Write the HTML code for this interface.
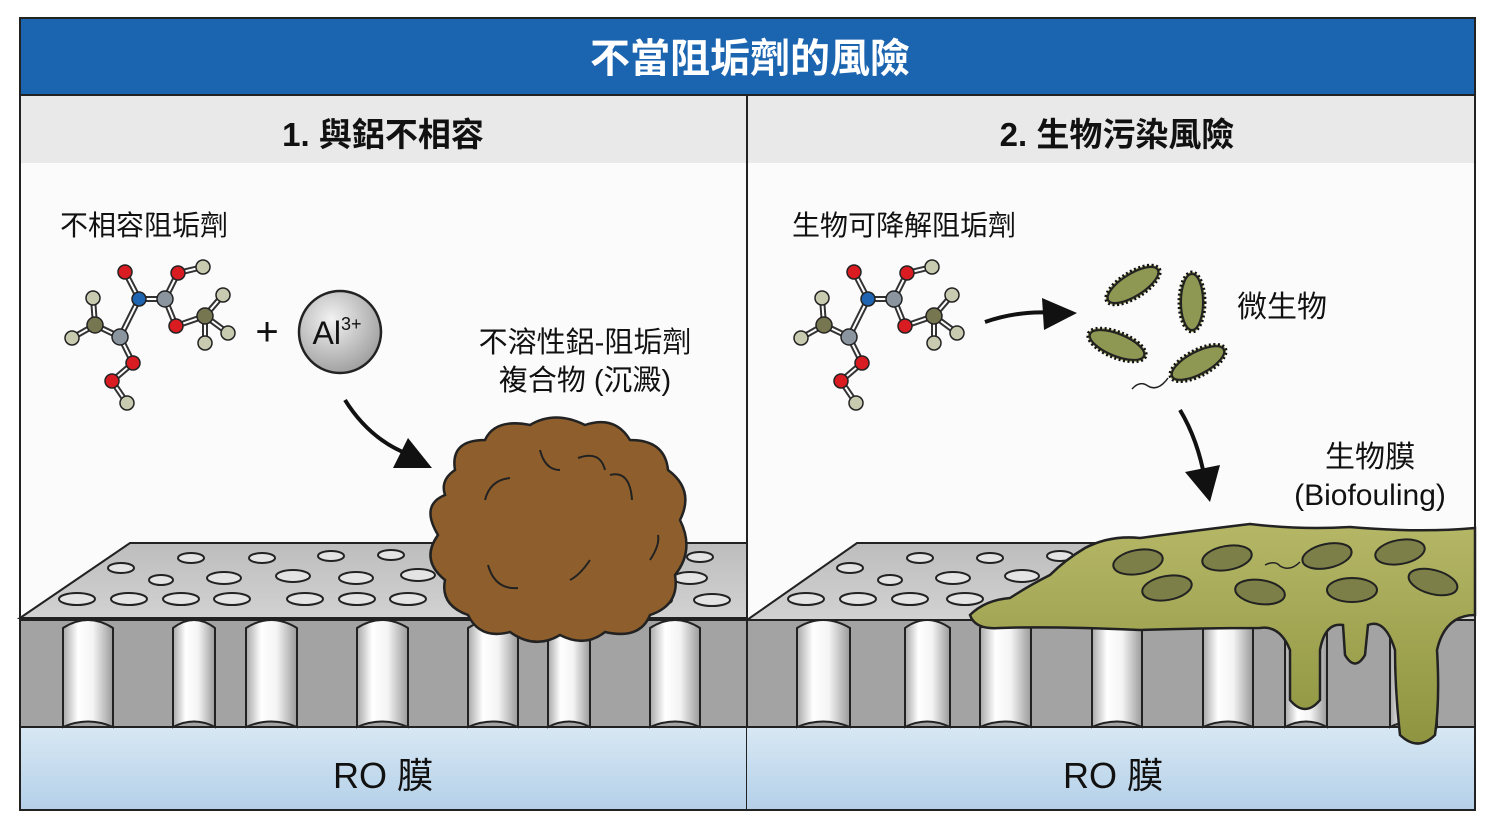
<!DOCTYPE html>
<html><head><meta charset="utf-8">
<style>
html,body{margin:0;padding:0;background:#fff;}
svg{display:block;}
text{font-family:"Liberation Sans","Noto Sans CJK TC",sans-serif;}
</style></head><body>
<svg width="1500" height="837" viewBox="0 0 1500 837" xmlns="http://www.w3.org/2000/svg">
<defs>
<linearGradient id="pore" x1="0" x2="1" y1="0" y2="0">
<stop offset="0" stop-color="#a8a8a8"/><stop offset="0.3" stop-color="#ffffff"/><stop offset="0.6" stop-color="#f4f4f4"/><stop offset="1" stop-color="#9a9a9a"/></linearGradient>
<linearGradient id="water" x1="0" x2="0" y1="0" y2="1"><stop offset="0" stop-color="#d8e8f4"/><stop offset="1" stop-color="#b4d0e8"/></linearGradient>
<linearGradient id="top" x1="0" x2="0" y1="0" y2="1"><stop offset="0" stop-color="#bdbdbd"/><stop offset="1" stop-color="#d2d2d2"/></linearGradient>
<radialGradient id="al" cx="0.4" cy="0.35" r="0.7"><stop offset="0" stop-color="#f2f2f2"/><stop offset="1" stop-color="#9c9c9c"/></radialGradient>
<linearGradient id="film" x1="0" x2="0" y1="0" y2="1"><stop offset="0" stop-color="#b5b766"/><stop offset="1" stop-color="#8e9440"/></linearGradient>
</defs>
<rect x="0" y="0" width="1500" height="837" fill="#fff"/>
<rect x="20" y="95" width="1455" height="715" fill="#fbfbfb"/>
<rect x="20" y="95" width="1455" height="68" fill="#e9e9e9"/>
<rect x="20" y="18" width="1455" height="77" fill="#1a64b0"/>
<text x="750" y="72" font-size="40" fill="#fff" text-anchor="middle" font-weight="bold">不當阻垢劑的風險</text>
<text x="383" y="146" font-size="33" fill="#111" text-anchor="middle" font-weight="bold">1. 與鋁不相容</text>
<text x="1117" y="146" font-size="33" fill="#111" text-anchor="middle" font-weight="bold">2. 生物污染風險</text>

<rect x="20" y="727" width="727" height="83" fill="url(#water)"/>
<polygon points="20,618 130,543 747,543 747,618" fill="url(#top)" stroke="#222" stroke-width="2"/>
<rect x="20" y="620" width="727" height="107" fill="#a3a3a3" stroke="#222" stroke-width="2"/>
<g fill="url(#pore)" stroke="#222" stroke-width="2">
<path d="M63,727 V628 Q88,612 113,628 V727 Q88,716 63,727Z"/>
<path d="M173,727 V628 Q194,612 215,628 V727 Q194,716 173,727Z"/>
<path d="M246,727 V628 Q271,612 297,628 V727 Q271,716 246,727Z"/>
<path d="M357,727 V628 Q382,612 408,628 V727 Q382,716 357,727Z"/>
<path d="M468,727 V628 Q493,612 518,628 V727 Q493,716 468,727Z"/>
<path d="M548,727 V628 Q569,612 590,628 V727 Q569,716 548,727Z"/>
<path d="M650,727 V628 Q675,612 700,628 V727 Q675,716 650,727Z"/>
</g>
<g fill="#e4e4e4" stroke="#222" stroke-width="2">
<ellipse cx="191" cy="558" rx="13" ry="5"/><ellipse cx="262" cy="558" rx="13" ry="5"/><ellipse cx="331" cy="556" rx="13" ry="5"/><ellipse cx="391" cy="555" rx="13" ry="5"/>
<ellipse cx="121" cy="568" rx="13" ry="5"/><ellipse cx="161" cy="580" rx="12" ry="5"/><ellipse cx="224" cy="578" rx="17" ry="6"/><ellipse cx="293" cy="576" rx="17" ry="6"/><ellipse cx="356" cy="578" rx="17" ry="6"/><ellipse cx="418" cy="575" rx="17" ry="6"/>
<ellipse cx="77" cy="599" rx="18" ry="6"/><ellipse cx="129" cy="599" rx="18" ry="6"/><ellipse cx="181" cy="599" rx="18" ry="6"/><ellipse cx="232" cy="599" rx="18" ry="6"/><ellipse cx="305" cy="599" rx="18" ry="6"/><ellipse cx="357" cy="599" rx="18" ry="6"/><ellipse cx="408" cy="599" rx="18" ry="6"/>
<ellipse cx="690" cy="578" rx="17" ry="6"/><ellipse cx="712" cy="600" rx="18" ry="6"/><ellipse cx="660" cy="600" rx="12" ry="5"/><ellipse cx="700" cy="557" rx="13" ry="5"/>
</g>
<text x="383" y="788" font-size="36" fill="#111" text-anchor="middle">RO 膜</text>

<path d="M455,470 Q450,440 485,440 Q495,418 530,425 Q555,410 585,425 Q615,415 630,440 Q665,440 668,470 Q695,490 680,520 Q695,550 675,575 Q680,605 650,615 Q640,640 605,632 Q585,648 560,635 Q535,650 510,632 Q480,640 468,615 Q440,605 445,580 Q420,560 438,535 Q420,505 445,495 Q440,480 455,470Z" fill="#8e5f2c" stroke="#222" stroke-width="2.5"/>
<g fill="none" stroke="#222" stroke-width="2">
<path d="M485,500 Q490,480 510,478"/><path d="M578,458 Q600,450 605,470"/><path d="M610,475 Q630,470 632,500"/><path d="M488,565 Q495,590 518,588"/><path d="M570,580 Q580,575 590,560"/><path d="M650,560 Q660,545 658,535"/><path d="M540,450 Q545,470 560,470"/>
</g>

<g id="mol">
<g stroke="#333" stroke-width="6" fill="none"><path d="M125,272 L139,299 L165,299 L178,273 L203,267 M165,299 L176,326 L205,316 L223,295 M205,316 L228,333 M205,316 L205,343 M139,299 L120,337 L95,325 L93,298 M95,325 L72,338 M120,337 L133,363 L112,381 L127,403"/></g>
<g stroke="#fff" stroke-width="2" fill="none"><path d="M125,272 L139,299 L165,299 L178,273 L203,267 M165,299 L176,326 L205,316 L223,295 M205,316 L228,333 M205,316 L205,343 M139,299 L120,337 L95,325 L93,298 M95,325 L72,338 M120,337 L133,363 L112,381 L127,403"/></g>
<g stroke="#222" stroke-width="1.5">
<circle cx="125" cy="272" r="7" fill="#d81c22"/><circle cx="178" cy="273" r="7" fill="#d81c22"/><circle cx="203" cy="267" r="7" fill="#c8cbb0"/>
<circle cx="139" cy="299" r="7" fill="#1e64b0"/><circle cx="165" cy="299" r="8" fill="#8a95a0"/>
<circle cx="95" cy="325" r="8" fill="#767650"/><circle cx="93" cy="298" r="7" fill="#c8cbb0"/><circle cx="72" cy="338" r="7" fill="#c8cbb0"/>
<circle cx="120" cy="337" r="8" fill="#8a95a0"/><circle cx="176" cy="326" r="7" fill="#d81c22"/>
<circle cx="205" cy="316" r="8" fill="#767650"/><circle cx="223" cy="295" r="7" fill="#c8cbb0"/><circle cx="228" cy="333" r="7" fill="#c8cbb0"/><circle cx="205" cy="343" r="7" fill="#c8cbb0"/>
<circle cx="133" cy="363" r="7" fill="#d81c22"/><circle cx="112" cy="381" r="7" fill="#d81c22"/><circle cx="127" cy="403" r="7" fill="#c8cbb0"/>
</g></g>
<use href="#mol" transform="translate(729,0)"/>

<text x="267" y="345" font-size="40" fill="#111" text-anchor="middle">+</text>
<circle cx="340" cy="332" r="41" fill="url(#al)" stroke="#222" stroke-width="2.5"/>
<text x="337" y="344" font-size="32" fill="#111" text-anchor="middle">Al<tspan font-size="18" dy="-14">3+</tspan></text>

<text x="60" y="235" font-size="28" fill="#111">不相容阻垢劑</text>
<text x="585" y="352" font-size="29" fill="#111" text-anchor="middle">不溶性鋁-阻垢劑</text>
<text x="585" y="390" font-size="29" fill="#111" text-anchor="middle">複合物 (沉澱)</text>

<path d="M345,400 Q370,440 410,455" fill="none" stroke="#111" stroke-width="4"/>
<polygon points="393,468 432,468 408,438" fill="#111"/>
<path d="M985,322 Q1020,310 1055,313" fill="none" stroke="#111" stroke-width="4"/>
<polygon points="1042,298 1077,313 1044,330" fill="#111"/>
<path d="M1180,410 Q1198,440 1205,480" fill="none" stroke="#111" stroke-width="4"/>
<polygon points="1185,472 1220,465 1210,502" fill="#111"/>

<line x1="747" y1="95" x2="747" y2="810" stroke="#222" stroke-width="2"/>

<rect x="747" y="727" width="728" height="83" fill="url(#water)"/>
<polygon points="747,620 857,543 1475,543 1475,620" fill="url(#top)" stroke="#222" stroke-width="2"/>
<rect x="747" y="620" width="728" height="107" fill="#a3a3a3" stroke="#222" stroke-width="2"/>
<g fill="url(#pore)" stroke="#222" stroke-width="2">
<path d="M797,727 V628 Q823,612 850,628 V727 Q823,716 797,727Z"/>
<path d="M905,727 V628 Q927,612 950,628 V727 Q927,716 905,727Z"/>
<path d="M980,727 V628 Q1005,612 1031,628 V727 Q1005,716 980,727Z"/>
<path d="M1092,727 V628 Q1117,612 1142,628 V727 Q1117,716 1092,727Z"/>
<path d="M1203,727 V628 Q1228,612 1253,628 V727 Q1228,716 1203,727Z"/>
<path d="M1285,727 V628 Q1306,612 1327,628 V727 Q1306,716 1285,727Z"/>
<path d="M1390,727 V628 Q1413,612 1437,628 V727 Q1413,716 1390,727Z"/>
</g>
<g fill="#e4e4e4" stroke="#222" stroke-width="2">
<ellipse cx="920" cy="558" rx="13" ry="5"/><ellipse cx="990" cy="558" rx="13" ry="5"/><ellipse cx="1060" cy="556" rx="13" ry="5"/>
<ellipse cx="850" cy="568" rx="13" ry="5"/><ellipse cx="890" cy="580" rx="12" ry="5"/><ellipse cx="953" cy="578" rx="17" ry="6"/><ellipse cx="1022" cy="576" rx="17" ry="6"/>
<ellipse cx="806" cy="599" rx="18" ry="6"/><ellipse cx="858" cy="599" rx="18" ry="6"/><ellipse cx="910" cy="599" rx="18" ry="6"/><ellipse cx="965" cy="599" rx="18" ry="6"/>
</g>
<path d="M970,615 Q985,600 1010,598 Q1030,585 1050,575 Q1065,560 1085,548 Q1110,535 1140,538 Q1200,530 1250,524 Q1300,530 1350,527 Q1420,533 1475,528 L1475,615 Q1445,615 1437,650 Q1440,700 1435,735 Q1418,752 1400,735 Q1395,690 1395,650 Q1385,618 1368,625 L1365,655 Q1355,672 1345,655 L1343,625 Q1325,622 1320,650 L1320,700 Q1305,718 1290,700 L1290,650 Q1280,625 1260,628 Q1200,628 1140,630 Q1050,626 1000,628 Q975,630 970,615Z" fill="url(#film)" stroke="#222" stroke-width="2.5"/>
<g fill="#7d7f48" stroke="#222" stroke-width="2">
<ellipse cx="1138" cy="562" rx="25" ry="12" transform="rotate(-10 1138 562)"/>
<ellipse cx="1227" cy="558" rx="25" ry="12" transform="rotate(-10 1227 558)"/>
<ellipse cx="1327" cy="556" rx="25" ry="12" transform="rotate(-12 1327 556)"/>
<ellipse cx="1400" cy="552" rx="25" ry="12" transform="rotate(-10 1400 552)"/>
<ellipse cx="1167" cy="588" rx="25" ry="12" transform="rotate(-10 1167 588)"/>
<ellipse cx="1260" cy="592" rx="25" ry="12" transform="rotate(8 1260 592)"/>
<ellipse cx="1352" cy="590" rx="25" ry="12" transform="rotate(0 1352 590)"/>
<ellipse cx="1433" cy="582" rx="25" ry="12" transform="rotate(15 1433 582)"/>
</g>
<path d="M1265,565 Q1275,560 1280,566 Q1290,572 1300,562" fill="none" stroke="#222" stroke-width="1.5"/>
<g fill="#8f9852" stroke="#111" stroke-width="3" stroke-dasharray="2 2.5">
<ellipse cx="1133" cy="285" rx="31" ry="13" transform="rotate(-32 1133 285)"/>
<ellipse cx="1192" cy="302" rx="13" ry="30"/>
<ellipse cx="1117" cy="345" rx="31" ry="13" transform="rotate(22 1117 345)"/>
<ellipse cx="1198" cy="363" rx="31" ry="13" transform="rotate(-28 1198 363)"/>
</g>
<g fill="none" stroke="#222" stroke-width="2">
<ellipse cx="1133" cy="285" rx="29" ry="11" transform="rotate(-32 1133 285)"/>
<ellipse cx="1192" cy="302" rx="11" ry="28"/>
<ellipse cx="1117" cy="345" rx="29" ry="11" transform="rotate(22 1117 345)"/>
<ellipse cx="1198" cy="363" rx="29" ry="11" transform="rotate(-28 1198 363)"/>
</g>
<path d="M1132,389 Q1140,380 1148,386 Q1158,392 1168,378" fill="none" stroke="#222" stroke-width="1.5"/>

<text x="792" y="235" font-size="28" fill="#111">生物可降解阻垢劑</text>
<text x="1237" y="317" font-size="30" fill="#111">微生物</text>
<text x="1370" y="467" font-size="30" fill="#111" text-anchor="middle">生物膜</text>
<text x="1370" y="505" font-size="30" fill="#111" text-anchor="middle">(Biofouling)</text>
<text x="1113" y="788" font-size="36" fill="#111" text-anchor="middle">RO 膜</text>

<rect x="20" y="18" width="1455" height="792" fill="none" stroke="#222" stroke-width="2"/>
<line x1="20" y1="95" x2="1475" y2="95" stroke="#222" stroke-width="2"/>
</svg>
</body></html>
